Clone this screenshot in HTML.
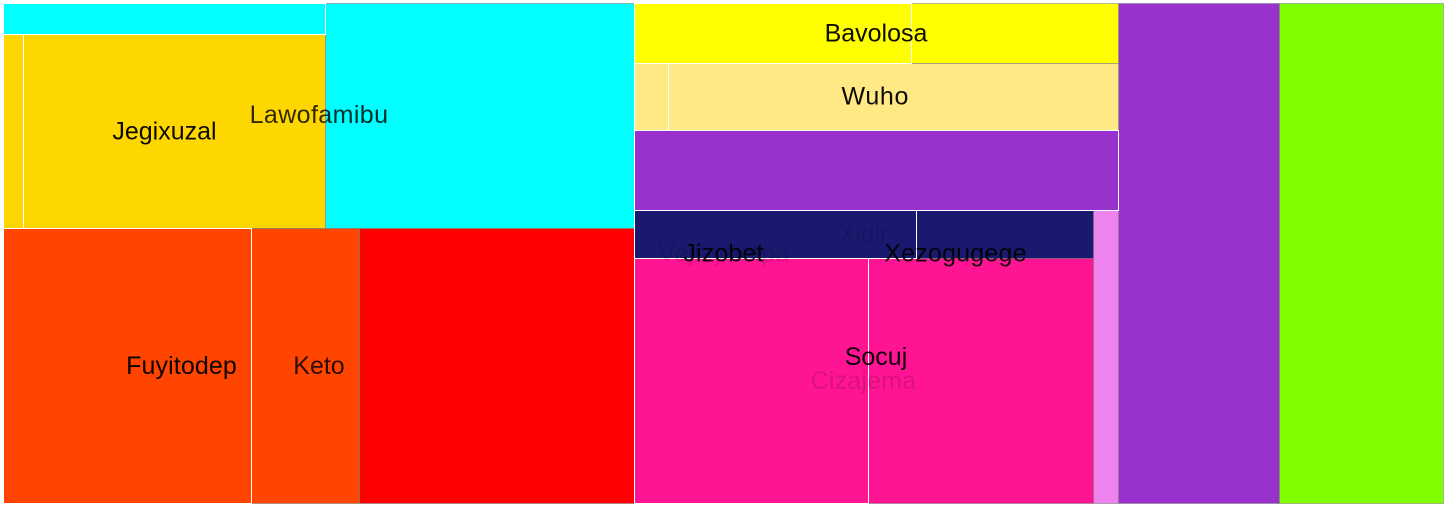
<!DOCTYPE html>
<html lang="en">
<head>
<meta charset="utf-8">
<title>Treemap</title>
<style>
  html, body { margin: 0; padding: 0; background: #fff; width: 1446px; height: 507px; overflow: hidden; }
  svg { display: block; }
  text { font-family: "Liberation Sans", sans-serif; font-size: 25px; text-anchor: middle; }
</style>
</head>
<body>
<svg id="chart" width="1446" height="507" viewBox="0 0 1446 507" xmlns="http://www.w3.org/2000/svg"></svg>
<script>
// Hierarchy: id, parent, value (leaf cells only carry values)
const nodeIds = ['root','left','mid','purple-col','green-col','lawofamibu','keto','cyan-strip-wrap','cyan-right','cyan-strip','jegixuzal','gold-small','gold-big','fuyitodep','red','orange-a','orange-b','bavolosa','wuho','purple-bar','socuj','yellow-a','yellow-b','wuho-a','wuho-b','socuj-inner','violet','xidir','cizajema','navy-a','navy-b','pink-a','pink-b'];
const nodeParents = [null,'root','root','root','root','left','left','lawofamibu','lawofamibu','cyan-strip-wrap','cyan-strip-wrap','jegixuzal','jegixuzal','keto','keto','fuyitodep','fuyitodep','mid','mid','mid','mid','bavolosa','bavolosa','wuho','wuho','socuj','socuj','socuj-inner','socuj-inner','xidir','xidir','cizajema','cizajema'];
const nodeValues = [0,0,0,80500,82000,0,0,0,69525,9982,0,3880,58588,0,75625,68200,29700,0,0,38720,0,16620,12420,2278,30150,0,7325,0,0,13536,8496,57330,55125];

// Printed labels and the node each one belongs to
const labelNames = ['Lawofamibu','Keto','Xidir','Vejizyhetpa','Cizajema','Jegixuzal','Fuyitodep','Bavolosa','Wuho','Socuj','Jizobet','Xezogugege'];
const labelNodes = ['lawofamibu','keto','xidir','navy-a','cizajema','jegixuzal','fuyitodep','bavolosa','wuho','socuj','navy-a','navy-b'];

// Styling and layout settings
const cellColors = {'purple-col':'#9932cc','green-col':'#7fff00','cyan-right':'#00ffff','cyan-strip':'#00ffff','gold-small':'#ffd700','gold-big':'#ffd700','red':'#ff0000','orange-a':'#ff4500','orange-b':'#ff4500','yellow-a':'#ffff00','yellow-b':'#ffff00','wuho-a':'#ffe985','wuho-b':'#ffe985','purple-bar':'#9932cc','violet':'#ee82ee','navy-a':'#191970','navy-b':'#191970','pink-a':'#ff1493','pink-b':'#ff1493'};
const whiteStroked = new Set(['cyan-strip','gold-small','orange-a','yellow-a','wuho-a','purple-bar','navy-a','pink-a']);
const stackedVertically = new Set(['left','mid','cyan-strip-wrap','socuj-inner']);
const labelStyle = {
  'Lawofamibu': {o: .82, ls: .4, dy: -1}, 'Keto': {o: .82},
  'Xidir': {o: .12, dx: -.5}, 'Vejizyhetpa': {o: .12, dx: -51.5, dy: 19, ls: .3}, 'Cizajema': {o: .14, ls: .2, dx: -.5},
  'Fuyitodep': {ls: .1}, 'Wuho': {ls: .7, dy: -.5, dx: -1.2},
  'Bavolosa': {dx: -.5}, 'Socuj': {dx: -.5},
  'Jizobet': {o: .9, dx: -52, dy: 19, ls: .15}, 'Xezogugege': {o: .9, dx: -49.5, dy: 19, ls: .2}
};
const plot = {x: 3.5, y: 3.5, w: 1440, h: 500};

const svg = document.getElementById('chart');
const NS = 'http://www.w3.org/2000/svg';
const childrenOf = {};
nodeIds.forEach((id, i) => {
  const p = nodeParents[i];
  if (p) { (childrenOf[p] = childrenOf[p] || []).push(id); }
});
function total(id) {
  const kids = childrenOf[id];
  if (!kids) return nodeValues[nodeIds.indexOf(id)];
  return kids.reduce((s, k) => s + total(k), 0);
}
const boxes = {};
function layout(id, x, y, w, h) {
  boxes[id] = {x, y, w, h};
  const kids = childrenOf[id];
  if (!kids) return;
  const sum = total(id);
  let offset = 0;
  kids.forEach(k => {
    const share = total(k) / sum;
    if (stackedVertically.has(id)) {
      layout(k, x, y + offset, w, h * share);
      offset += h * share;
    } else {
      layout(k, x + offset, y, w * share, h);
      offset += w * share;
    }
  });
}
layout('root', plot.x, plot.y, plot.w, plot.h);

function drawCell(id) {
  const b = boxes[id];
  const r = document.createElementNS(NS, 'rect');
  r.setAttribute('x', b.x);
  r.setAttribute('y', b.y);
  r.setAttribute('width', b.w);
  r.setAttribute('height', b.h);
  r.setAttribute('fill', cellColors[id]);
  r.setAttribute('stroke', whiteStroked.has(id) ? '#ffffff' : 'rgba(128,128,128,0.55)');
  r.setAttribute('stroke-width', '1');
  
  
  svg.appendChild(r);
}
const leaves = nodeIds.filter(id => !childrenOf[id]);
leaves.filter(id => !whiteStroked.has(id)).forEach(drawCell);
leaves.filter(id => whiteStroked.has(id)).forEach(drawCell);

labelNames.forEach((name, i) => {
  const b = boxes[labelNodes[i]];
  const st = labelStyle[name] || {};
  const t = document.createElementNS(NS, 'text');
  t.setAttribute('x', b.x + b.w / 2 + (st.dx || 0));
  t.setAttribute('y', b.y + b.h / 2 + (st.dy || 0) + 8);
  t.setAttribute('fill', '#000');
  t.setAttribute('fill-opacity', st.o || 0.95);
  if (st.ls) { t.setAttribute('letter-spacing', st.ls); }
  
  
  t.textContent = name;
  svg.appendChild(t);
});
</script>
</body>
</html>
